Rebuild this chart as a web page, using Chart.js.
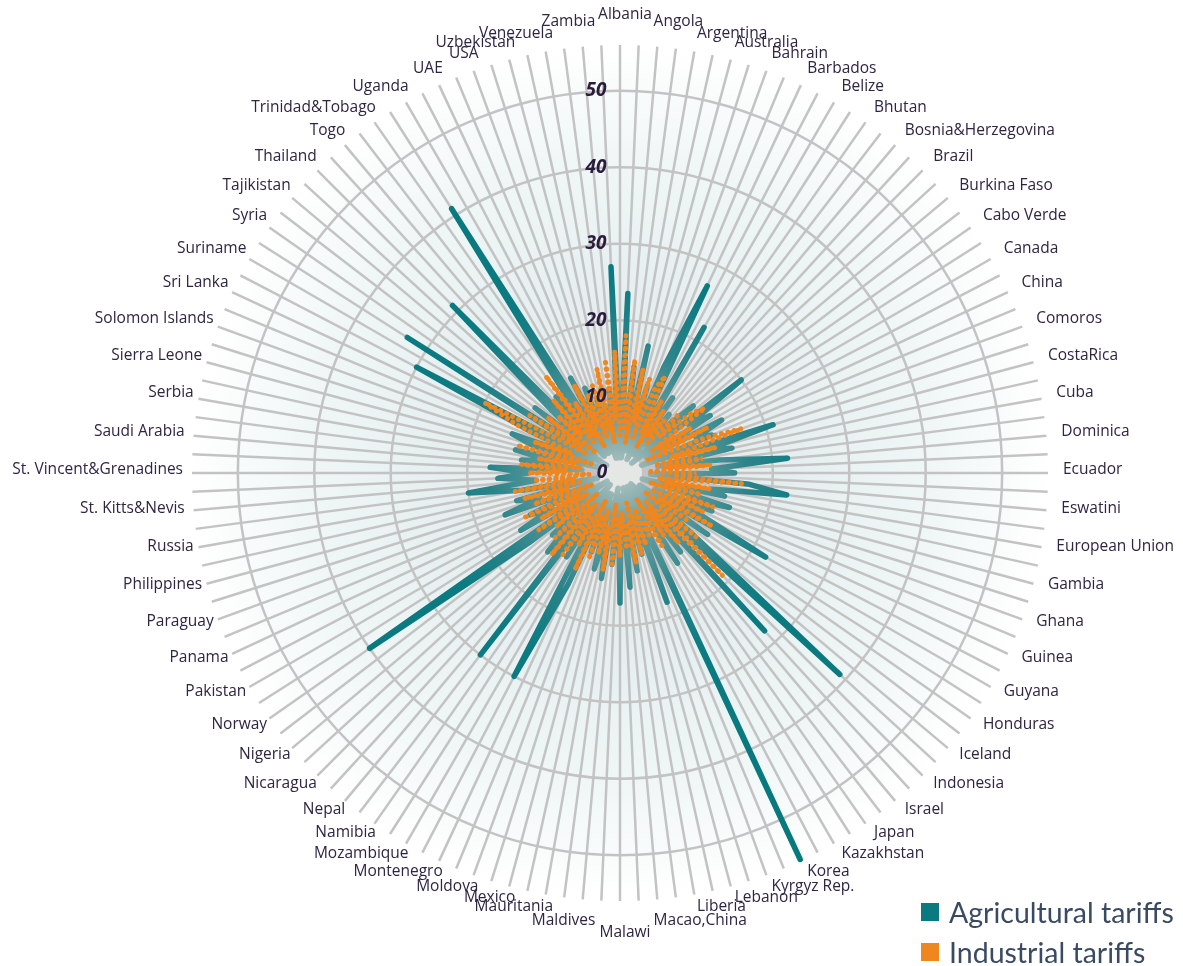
<!DOCTYPE html>
<html>
<head>
<meta charset="utf-8">
<script src="https://cdn.jsdelivr.net/npm/chart.js@4.4.1/dist/chart.umd.min.js"></script>
<style>
  html, body { margin: 0; padding: 0; background: #fff; }
  #wrap { position: relative; width: 1183px; height: 966px; overflow: hidden; }
  #legend { position: absolute; left: 921px; top: 892px; font-family: Lato, "Open Sans", sans-serif; }
  .item { display: flex; align-items: center; height: 40px; font-size: 28.5px; color: #3b4a63; white-space: nowrap; }
  .swatch { width: 18px; height: 18px; margin-right: 10px; flex: none; }
</style>
</head>
<body>
<div id="wrap">
  <canvas id="chart" width="1183" height="966"></canvas>
  <div id="legend"></div>
</div>
<script>
// countries shown round the chart (every second spoke carries a name)
const countries = [
  'Albania', 'Angola', 'Argentina', 'Australia', 'Bahrain', 'Barbados', 'Belize', 'Bhutan',
  'Bosnia&Herzegovina', 'Brazil', 'Burkina Faso', 'Cabo Verde', 'Canada', 'China', 'Comoros',
  'CostaRica', 'Cuba', 'Dominica', 'Ecuador', 'Eswatini', 'European Union', 'Gambia', 'Ghana',
  'Guinea', 'Guyana', 'Honduras', 'Iceland', 'Indonesia', 'Israel', 'Japan', 'Kazakhstan', 'Korea',
  'Kyrgyz Rep.', 'Lebanon', 'Liberia', 'Macao,China', 'Malawi', 'Maldives', 'Mauritania', 'Mexico',
  'Moldova', 'Montenegro', 'Mozambique', 'Namibia', 'Nepal', 'Nicaragua', 'Nigeria', 'Norway',
  'Pakistan', 'Panama', 'Paraguay', 'Philippines', 'Russia', 'St. Kitts&Nevis',
  'St. Vincent&Grenadines', 'Saudi Arabia', 'Serbia', 'Sierra Leone', 'Solomon Islands',
  'Sri Lanka', 'Suriname', 'Syria', 'Tajikistan', 'Thailand', 'Togo', 'Trinidad&Tobago', 'Uganda',
  'UAE', 'USA', 'Uzbekistan', 'Venezuela', 'Zambia'
];

// one value per spoke (144 spokes)
const agricultural = [
  4, 23.5, 2, 14, 5, 17, 3, 12, 4, 15, 27, 2,
  22, 4, 12, 3, 10, 5, 9, 13, 2, 20, 11, 14,
  4, 15, 11, 13, 3, 21, 12, 15, 5, 13, 22, 12,
  15, 4, 17, 22, 12, 14, 3, 15, 10, 13, 5, 12,
  22, 3, 14, 5, 12, 39, 2, 28, 4, 13, 3, 14,
  5, 2, 55.8, 3, 18, 4, 11, 2, 13, 5, 15, 3,
  17, 4, 12, 2, 14, 8, 13, 4, 11, 3, 16, 30,
  3, 13, 5, 30, 2, 14, 9, 12, 4, 15, 40, 2,
  15, 10, 13, 4, 16, 11, 14, 3, 13, 20, 11, 16,
  12, 17, 5, 13, 9, 14, 3, 12, 15, 4, 13, 30,
  2, 33, 4, 14, 5, 12, 31, 3, 13, 4, 12, 41,
  3, 14, 5, 12, 3, 10, 2, 9, 4, 11, 2, 27
];

const industrial = [
  5, 18, 6, 15, 4, 14, 7, 13, 5, 12, 14, 6,
  11, 4, 10, 6, 9, 5, 11, 7, 12, 14, 5, 11,
  6, 13, 4, 12, 17, 7, 13, 5, 11, 6, 12, 4,
  10, 7, 16, 5, 12, 6, 11, 4, 13, 7, 12, 5,
  14, 6, 11, 4, 13, 7, 19, 5, 12, 6, 10, 4,
  11, 7, 9, 5, 10, 6, 11, 4, 12, 7, 10, 5,
  11, 6, 12, 4, 13, 7, 11, 5, 12, 6, 14, 4,
  11, 7, 13, 5, 14, 6, 12, 4, 11, 7, 13, 5,
  12, 6, 14, 4, 12, 7, 13, 5, 14, 6, 11, 4,
  12, 7, 13, 5, 11, 6, 14, 4, 12, 7, 15, 20,
  5, 14, 6, 12, 4, 11, 7, 13, 5, 16, 6, 11,
  4, 13, 7, 11, 5, 12, 6, 14, 4, 15, 7, 16
];

const tickValues = [0, 10, 20, 30, 40, 50];
const seriesNames = ['Agricultural tariffs', 'Industrial tariffs'];
const seriesColors = ['#0a7a80', '#f0861e'];

// named spoke, then an unnamed one
const labels = [];
countries.forEach(c => { labels.push(c); labels.push(''); });

// legend (html, bottom right)
const legendEl = document.getElementById('legend');
seriesNames.forEach((name, i) => {
  const row = document.createElement('div');
  row.className = 'item';
  row.innerHTML = '<span class="swatch" style="background:' + seriesColors[i] + '"></span>' + name;
  legendEl.appendChild(row);
});

function discGradient(ctx, s) {
  const g = ctx.createRadialGradient(s.xCenter, s.yCenter, 0, s.xCenter, s.yCenter, s.drawingArea);
  g.addColorStop(0, '#e7e8e4');
  g.addColorStop(0.4, '#e5eff0');
  g.addColorStop(0.75, '#f1f7f7');
  g.addColorStop(1, '#ffffff');
  return g;
}

const radarDecor = {
  id: 'radarDecor',
  beforeDraw(chart) {
    const s = chart.scales.r, ctx = chart.ctx;
    ctx.save();
    ctx.beginPath();
    ctx.arc(s.xCenter, s.yCenter, s.drawingArea, 0, Math.PI * 2);
    ctx.fillStyle = discGradient(ctx, s);
    ctx.fill();
    ctx.restore();
  },
  beforeDatasetsDraw(chart) {
    // spokes fade out right at the middle
    const s = chart.scales.r, ctx = chart.ctx;
    ctx.save();
    ctx.beginPath();
    ctx.arc(s.xCenter, s.yCenter, 22, 0, Math.PI * 2);
    ctx.fillStyle = '#e4e7e3';
    ctx.fill();
    ctx.restore();
  },
  afterDatasetsDraw(chart) {
    const s = chart.scales.r, ctx = chart.ctx;
    ctx.save();
    ctx.font = 'italic bold 19px "Open Sans"';
    ctx.fillStyle = '#2a1c3c';
    ctx.textAlign = 'center';
    ctx.textBaseline = 'middle';
    tickValues.forEach(v => {
      ctx.fillText(String(v), s.xCenter - (v === 0 ? 18 : 24), s.yCenter - s.getDistanceFromCenterForValue(v));
    });
    ctx.restore();
  },
  afterDraw(chart) {
    // country names, placed the way the original spreadsheet chart does it
    const s = chart.scales.r, ctx = chart.ctx;
    const cx = s.xCenter + 1, cy = s.yCenter - 3, r = s.drawingArea + 15;
    ctx.save();
    ctx.font = '15.5px "Open Sans"';
    ctx.fillStyle = '#2e2543';
    ctx.textBaseline = 'middle';
    countries.forEach((name, k) => {
      const a = s.getIndexAngle(k * 2);
      const sn = Math.sin(a), cs = Math.cos(a);
      let x = cx + r * sn, y = cy - r * cs;
      if (Math.abs(sn) < 0.01) {
        ctx.textAlign = 'center'; x += 4;
      } else if (Math.abs(sn) < 0.1) {
        ctx.textAlign = sn > 0 ? 'left' : 'right'; x += sn > 0 ? -6 : 13;
      } else if (sn > 0) {
        ctx.textAlign = 'left'; x -= 1;
      } else {
        ctx.textAlign = 'right'; x += (sn < -0.99 ? 5 : 9);
      }
      if (cs > 0.999) y -= 12;
      else if (cs > 0.99) y -= 7;
      else if (cs < -0.999) y += 20;
      else if (cs < -0.99) y += 9;
      ctx.fillText(name, x, y);
    });
    ctx.restore();
  }
};

function tealGradient(c) {
  const s = c.chart.scales.r;
  if (!s || !s.drawingArea) return seriesColors[0];
  const g = c.chart.ctx.createRadialGradient(s.xCenter, s.yCenter, 0, s.xCenter, s.yCenter, s.drawingArea);
  g.addColorStop(0, '#b3c6c4');
  g.addColorStop(0.1, '#7aa5a6');
  g.addColorStop(0.3, '#2a848a');
  g.addColorStop(0.45, '#0c7b81');
  g.addColorStop(1, '#06787e');
  return g;
}

new Chart(document.getElementById('chart'), {
  type: 'radar',
  data: {
    labels: labels,
    datasets: [
      {
        label: seriesNames[0],
        data: agricultural,
        borderColor: tealGradient,
        borderWidth: 5.5,
        borderJoinStyle: 'round',
        pointRadius: 0,
        fill: false,
        order: 1
      },
      {
        label: seriesNames[1],
        data: industrial,
        borderColor: seriesColors[1],
        borderWidth: 5,
        borderDash: [0.1, 6.5],
        borderCapStyle: 'round',
        pointRadius: 0,
        fill: false,
        order: 0
      }
    ]
  },
  options: {
    responsive: false,
    animation: false,
    layout: { padding: { left: 192, right: 135, top: 45, bottom: 65 } },
    plugins: {
      legend: { display: false },
      tooltip: { enabled: false }
    },
    scales: {
      r: {
        min: 0,
        max: 56,
        ticks: { stepSize: 10, display: false },
        grid: {
          circular: true,
          lineWidth: 2.5,
          color: c => (c.tick && c.tick.value % 10 === 0) ? '#c3c3c3' : 'rgba(0,0,0,0)'
        },
        angleLines: { color: '#c3c3c3', lineWidth: 2.5 },
        pointLabels: { display: false }
      }
    }
  },
  plugins: [radarDecor]
});
</script>
</body>
</html>
